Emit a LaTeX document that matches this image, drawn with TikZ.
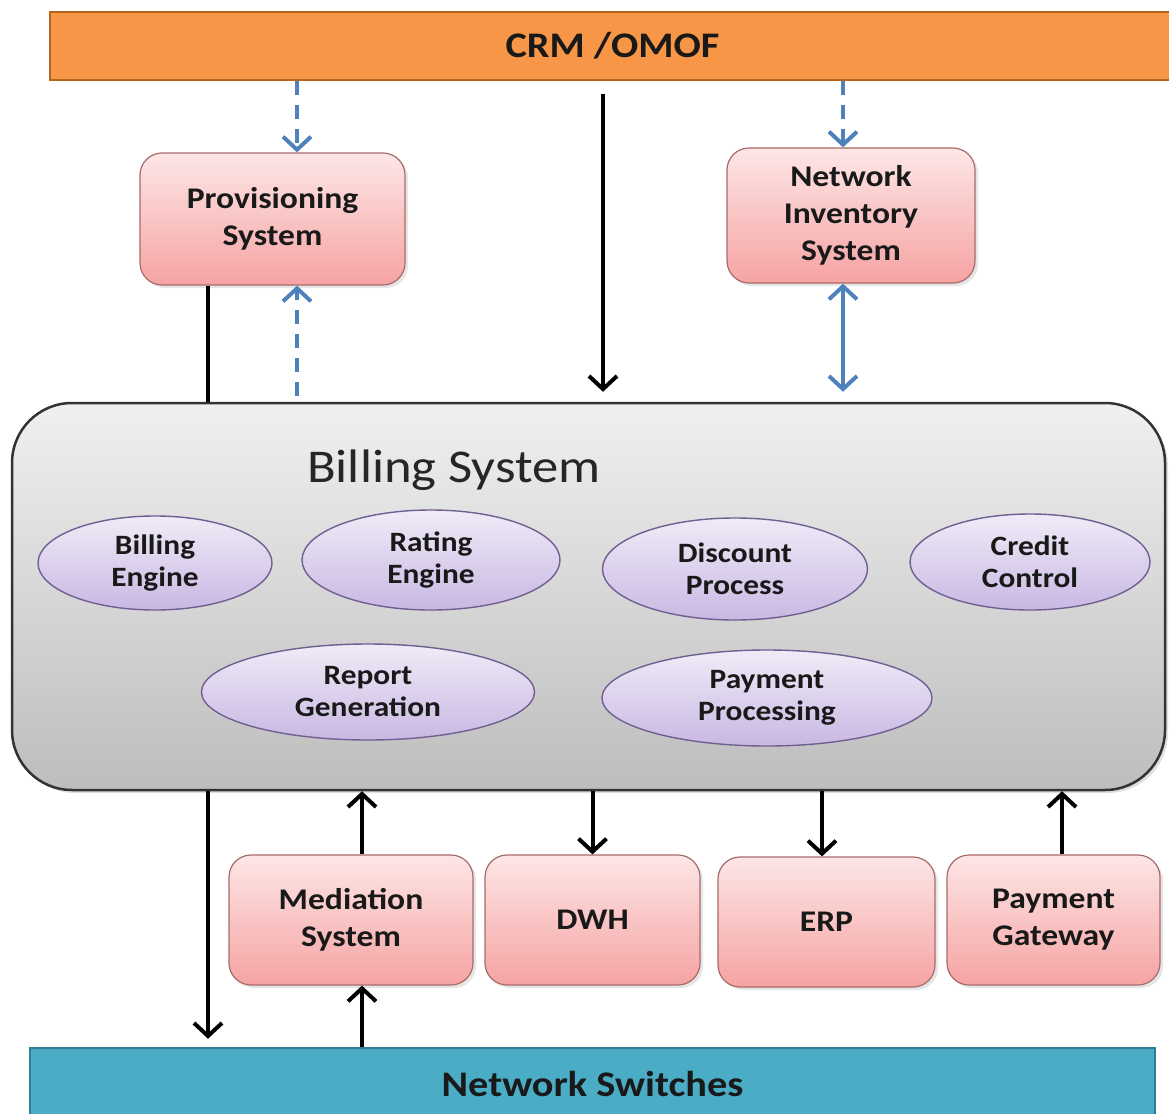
\documentclass[tikz,border=0pt]{standalone}
\usepackage{fontspec}
\setmainfont[FakeStretch=1.12]{Carlito}
\usetikzlibrary{arrows.meta,shapes.geometric,shadows}

\definecolor{crmorange}{HTML}{F79646}
\definecolor{crmedge}{HTML}{B5651D}
\definecolor{boxtop}{HTML}{FDE6E6}
\definecolor{boxbottom}{HTML}{F6A3A3}
\definecolor{boxedge}{HTML}{A86A6A}
\definecolor{elltop}{HTML}{F0EBF7}
\definecolor{ellbottom}{HTML}{C9B8E3}
\definecolor{elledge}{HTML}{6F5F92}
\definecolor{billtop}{HTML}{F0F0F0}
\definecolor{billbottom}{HTML}{BDBDBD}
\definecolor{switchblue}{HTML}{4BACC6}
\definecolor{switchedge}{HTML}{2F7F94}
\definecolor{linkblue}{HTML}{4F81BD}

\tikzset{
  sysbox/.style={rectangle, rounded corners=22pt, draw=boxedge, line width=1.2pt,
    top color=boxtop, bottom color=boxbottom, align=center, text=black!90,
    font=\fontsize{30}{37}\selectfont\bfseries,
    drop shadow={opacity=0.2, shadow xshift=3pt, shadow yshift=-3pt}},
  module/.style={ellipse, draw=elledge, line width=1.4pt, inner sep=0pt,
    top color=elltop, bottom color=ellbottom, align=center, text=black!90,
    font=\fontsize{28}{32}\selectfont\bfseries},
  billbox/.style={rectangle, rounded corners=60pt, draw=black!80, line width=2.5pt,
    top color=billtop, bottom color=billbottom,
    drop shadow={opacity=0.25, shadow xshift=3pt, shadow yshift=-3pt}},
  bar/.style={rectangle, line width=2.5pt, inner sep=0pt, text=black!90,
    font=\fontsize{36}{40}\selectfont\bfseries},
  flow/.style={line width=4pt, -{Straight Barb[length=13pt,width=28pt]}},
  blueflow/.style={flow, linkblue, dash pattern=on 14pt off 10pt},
  bluelink/.style={line width=4pt, linkblue, {Straight Barb[length=13pt,width=28pt]}-{Straight Barb[length=13pt,width=28pt]}}
}

\begin{document}
\begin{tikzpicture}[x=1pt,y=-1pt]
	\useasboundingbox (0,0) rectangle (1169,1113);

	% top and bottom bars
	\node[bar, fill=crmorange, draw=crmedge, minimum width=1125pt, minimum height=68pt] (crm) at (612.5,46) {CRM /OMOF};
	\node[bar, fill=switchblue, draw=switchedge, minimum width=1125pt, minimum height=72pt] (net) at (592.5,1084) {Network Switches};

	% upper systems
	\node[sysbox, minimum width=265pt, minimum height=132pt] (prov) at (272.5,219) {Provisioning\\System};
	\node[sysbox, minimum width=248pt, minimum height=135pt] (nis) at (851,215.5) {Network\\Inventory\\System};

	% billing system
	\node[billbox, minimum width=1153pt, minimum height=387pt] (bill) at (588.5,596.5) {};
	\node[font=\fontsize{47}{50}\selectfont, text=black!85] (title) at (454,470) {Billing System};

	% modules
	\node[module, minimum width=234pt, minimum height=94pt] (beng) at (155,563) {Billing\\Engine};
	\node[module, minimum width=258pt, minimum height=100pt] (reng) at (431,560) {Rating\\Engine};
	\node[module, minimum width=265pt, minimum height=102pt] (disc) at (735,569) {Discount\\Process};
	\node[module, minimum width=240pt, minimum height=96pt] (cred) at (1030,562) {Credit\\Control};
	\node[module, minimum width=333pt, minimum height=96pt] (rep) at (368,692) {Report\\Generation};
	\node[module, minimum width=330pt, minimum height=96pt] (pay) at (767,698) {Payment\\Processing};

	% lower systems
	\node[sysbox, minimum width=244pt, minimum height=130pt] (med) at (351,920) {Mediation\\System};
	\node[sysbox, minimum width=215pt, minimum height=130pt] (dwh) at (592.5,920) {DWH};
	\node[sysbox, minimum width=217pt, minimum height=130pt] (erp) at (826.5,922) {ERP};
	\node[sysbox, minimum width=213pt, minimum height=130pt] (pgw) at (1053.5,920) {Payment\\Gateway};

	% links above billing
	\draw[blueflow] ([xshift=24.5pt]prov.north |- crm.south) -- ([xshift=24.5pt]prov.north);
	\draw[blueflow, shorten <=6pt] ([xshift=24.5pt]prov.north |- bill.north) -- ([xshift=24.5pt]prov.south);
	\draw[line width=4pt] ([xshift=-64.5pt]prov.south) -- ([xshift=-64.5pt]prov.south |- bill.north);
	\draw[flow, shorten <=13pt, shorten >=10pt] ([xshift=14.5pt]bill.north |- crm.south) -- ([xshift=14.5pt]bill.north);
	\draw[blueflow] ([xshift=-8pt]nis.north |- crm.south) -- ([xshift=-8pt]nis.north);
	\draw[bluelink, shorten >=10pt] ([xshift=-8pt]nis.south) -- ([xshift=-8pt]nis.south |- bill.north);

	% links below billing
	\draw[flow, shorten >=8pt] ([xshift=-380.5pt]bill.south) -- ([xshift=-380.5pt]bill.south |- net.north);
	\draw[flow] ([xshift=11pt]med.north) -- ([xshift=11pt]med.north |- bill.south);
	\draw[flow] ([xshift=11pt]med.north |- net.north) -- ([xshift=11pt]med.south);
	\draw[flow] (dwh.north |- bill.south) -- (dwh.north);
	\draw[flow] ([xshift=-4.5pt]erp.north |- bill.south) -- ([xshift=-4.5pt]erp.north);
	\draw[flow] ([xshift=8.5pt]pgw.north) -- ([xshift=8.5pt]pgw.north |- bill.south);

\end{tikzpicture}
\end{document}
